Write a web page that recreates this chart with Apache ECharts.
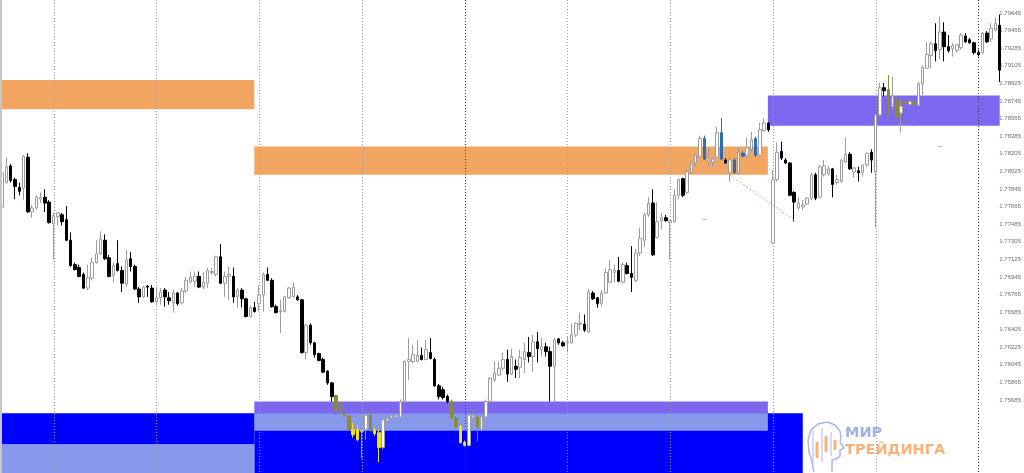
<!DOCTYPE html>
<html>
<head>
<meta charset="utf-8">
<script src="https://cdn.jsdelivr.net/npm/echarts@6/dist/echarts.min.js"></script>
<style>
  html, body { margin: 0; padding: 0; background: #fff; }
  #chart { width: 1024px; height: 473px; }
</style>
</head>
<body>
<div id="chart"></div>
<script>
// H1 bars: [open, close, low, high]
const candles = [
  [1.7766,1.7801,1.7761,1.7804],[1.7791,1.7807,1.7790,1.7817],[1.7808,1.7793,1.7791,1.7810],[1.7794,1.7787,1.7774,1.7796],
  [1.7786,1.7782,1.7778,1.7791],[1.7785,1.7818,1.7773,1.7819],[1.7817,1.7761,1.7760,1.7821],[1.7761,1.7765,1.7755,1.7768],
  [1.7765,1.7776,1.7763,1.7778],[1.7774,1.7776,1.7770,1.7781],[1.7776,1.7770,1.7761,1.7784],[1.7771,1.7750,1.7749,1.7773],
  [1.7749,1.7757,1.7712,1.7760],[1.7756,1.7760,1.7747,1.7761],[1.7758,1.7751,1.7747,1.7760],[1.7753,1.7732,1.7731,1.7767],
  [1.7732,1.7706,1.7705,1.7740],[1.7707,1.7702,1.7701,1.7709],[1.7704,1.7695,1.7694,1.7707],[1.7697,1.7683,1.7682,1.7699],
  [1.7683,1.7694,1.7681,1.7707],[1.7693,1.7709,1.7691,1.7714],[1.7709,1.7718,1.7708,1.7732],[1.7718,1.7733,1.7717,1.7741],
  [1.7732,1.7713,1.7712,1.7738],[1.7714,1.7695,1.7694,1.7717],[1.7696,1.7706,1.7689,1.7709],[1.7708,1.7701,1.7700,1.7732],
  [1.7701,1.7688,1.7679,1.7705],[1.7687,1.7712,1.7684,1.7722],[1.7713,1.7705,1.7700,1.7720],[1.7705,1.7682,1.7681,1.7707],
  [1.7682,1.7674,1.7668,1.7684],[1.7674,1.7684,1.7673,1.7685],[1.7685,1.7684,1.7674,1.7686],[1.7683,1.7669,1.7668,1.7686],
  [1.7669,1.7673,1.7666,1.7684],[1.7673,1.7679,1.7666,1.7683],[1.7681,1.7674,1.7664,1.7683],[1.7673,1.7670,1.7666,1.7679],
  [1.7668,1.7678,1.7658,1.7681],[1.7678,1.7667,1.7665,1.7679],[1.7668,1.7680,1.7666,1.7683],[1.7680,1.7691,1.7678,1.7694],
  [1.7689,1.7694,1.7688,1.7700],[1.7690,1.7695,1.7684,1.7700],[1.7695,1.7684,1.7683,1.7700],[1.7684,1.7689,1.7682,1.7699],
  [1.7688,1.7701,1.7683,1.7704],[1.7699,1.7700,1.7697,1.7704],[1.7697,1.7715,1.7695,1.7716],[1.7715,1.7688,1.7687,1.7728],
  [1.7688,1.7695,1.7674,1.7700],[1.7695,1.7697,1.7671,1.7705],[1.7695,1.7674,1.7668,1.7704],[1.7674,1.7681,1.7663,1.7683],
  [1.7681,1.7672,1.7663,1.7683],[1.7672,1.7654,1.7653,1.7673],[1.7654,1.7663,1.7653,1.7665],[1.7663,1.7659,1.7658,1.7669],
  [1.7667,1.7676,1.7659,1.7686],[1.7676,1.7697,1.7659,1.7699],[1.7697,1.7691,1.7690,1.7704],[1.7691,1.7664,1.7663,1.7693],
  [1.7664,1.7658,1.7657,1.7666],[1.7659,1.7660,1.7637,1.7671],[1.7659,1.7674,1.7658,1.7675],[1.7673,1.7683,1.7672,1.7684],
  [1.7674,1.7684,1.7673,1.7689],[1.7674,1.7671,1.7670,1.7676],[1.7671,1.7617,1.7616,1.7672],[1.7617,1.7645,1.7610,1.7646],
  [1.7645,1.7627,1.7625,1.7647],[1.7627,1.7615,1.7612,1.7628],[1.7616,1.7609,1.7608,1.7617],[1.7610,1.7597,1.7596,1.7612],
  [1.7598,1.7586,1.7584,1.7599],[1.7586,1.7572,1.7567,1.7587],[1.7573,1.7558,1.7553,1.7574],[1.7562,1.7555,1.7554,1.7566],
  [1.7555,1.7552,1.7551,1.7556],[1.7552,1.7538,1.7537,1.7553],[1.7538,1.7533,1.7530,1.7545],[1.7538,1.7528,1.7526,1.7543],
  [1.7536,1.7538,1.7509,1.7553],[1.7538,1.7553,1.7528,1.7555],[1.7553,1.7538,1.7536,1.7555],[1.7538,1.7534,1.7532,1.7540],
  [1.7535,1.7520,1.7505,1.7538],[1.7520,1.7548,1.7518,1.7550],[1.7547,1.7550,1.7545,1.7552],[1.7550,1.7553,1.7546,1.7555],
  [1.7551,1.7553,1.7549,1.7555],[1.7551,1.7567,1.7550,1.7569],[1.7567,1.7608,1.7566,1.7609],[1.7608,1.7610,1.7589,1.7632],
  [1.7608,1.7615,1.7606,1.7625],[1.7608,1.7614,1.7607,1.7630],[1.7614,1.7610,1.7609,1.7622],[1.7610,1.7620,1.7609,1.7630],
  [1.7617,1.7611,1.7610,1.7632],[1.7610,1.7583,1.7582,1.7612],[1.7583,1.7572,1.7569,1.7585],[1.7579,1.7571,1.7569,1.7582],
  [1.7572,1.7567,1.7565,1.7574],[1.7567,1.7550,1.7549,1.7569],[1.7550,1.7541,1.7540,1.7552],[1.7541,1.7525,1.7524,1.7543],
  [1.7525,1.7522,1.7521,1.7527],[1.7522,1.7553,1.7521,1.7554],[1.7551,1.7553,1.7550,1.7556],[1.7551,1.7541,1.7526,1.7553],
  [1.7538,1.7551,1.7537,1.7553],[1.7551,1.7567,1.7550,1.7569],[1.7567,1.7591,1.7566,1.7592],[1.7589,1.7596,1.7587,1.7608],
  [1.7594,1.7601,1.7593,1.7608],[1.7601,1.7610,1.7599,1.7617],[1.7610,1.7595,1.7587,1.7620],[1.7595,1.7613,1.7594,1.7621],
  [1.7603,1.7600,1.7591,1.7610],[1.7602,1.7612,1.7591,1.7620],[1.7610,1.7618,1.7596,1.7627],[1.7617,1.7613,1.7607,1.7633],
  [1.7613,1.7628,1.7597,1.7635],[1.7628,1.7621,1.7607,1.7638],[1.7620,1.7623,1.7613,1.7632],[1.7623,1.7618,1.7613,1.7627],
  [1.7618,1.7603,1.7567,1.7623],[1.7603,1.7630,1.7567,1.7632],[1.7631,1.7627,1.7625,1.7632],[1.7627,1.7624,1.7623,1.7629],
  [1.7627,1.7628,1.7617,1.7633],[1.7627,1.7635,1.7626,1.7647],[1.7635,1.7647,1.7633,1.7648],[1.7646,1.7647,1.7640,1.7658],
  [1.7646,1.7640,1.7638,1.7656],[1.7638,1.7679,1.7637,1.7682],[1.7678,1.7672,1.7671,1.7680],[1.7673,1.7667,1.7663,1.7674],
  [1.7667,1.7678,1.7664,1.7681],[1.7678,1.7699,1.7677,1.7703],[1.7689,1.7702,1.7688,1.7712],[1.7699,1.7701,1.7689,1.7707],
  [1.7701,1.7690,1.7689,1.7715],[1.7689,1.7707,1.7688,1.7709],[1.7706,1.7698,1.7697,1.7709],[1.7698,1.7694,1.7679,1.7726],
  [1.7691,1.7719,1.7689,1.7723],[1.7719,1.7734,1.7716,1.7745],[1.7732,1.7758,1.7725,1.7760],[1.7758,1.7770,1.7756,1.7776],
  [1.7770,1.7717,1.7716,1.7784],[1.7735,1.7751,1.7734,1.7771],[1.7752,1.7755,1.7743,1.7760],[1.7755,1.7752,1.7751,1.7758],
  [1.7750,1.7752,1.7712,1.7753],[1.7751,1.7778,1.7750,1.7784],[1.7778,1.7794,1.7774,1.7795],[1.7795,1.7778,1.7776,1.7796],
  [1.7781,1.7802,1.7779,1.7804],[1.7801,1.7811,1.7800,1.7812],[1.7811,1.7819,1.7807,1.7821],[1.7818,1.7836,1.7817,1.7839],
  [1.7836,1.7815,1.7814,1.7839],[1.7812,1.7816,1.7807,1.7827],[1.7812,1.7815,1.7807,1.7817],[1.7817,1.7842,1.7816,1.7848],
  [1.7842,1.7815,1.7814,1.7857],[1.7814,1.7811,1.7810,1.7816],[1.7801,1.7814,1.7792,1.7817],[1.7814,1.7801,1.7800,1.7816],
  [1.7801,1.7822,1.7799,1.7827],[1.7821,1.7818,1.7817,1.7823],[1.7819,1.7827,1.7816,1.7837],[1.7825,1.7835,1.7822,1.7843],
  [1.7836,1.7819,1.7817,1.7838],[1.7819,1.7845,1.7817,1.7852],[1.7844,1.7852,1.7843,1.7857],[1.7852,1.7845,1.7843,1.7853],
  [1.7729,1.7794,1.7728,1.7804],[1.7794,1.7822,1.7792,1.7832],[1.7823,1.7816,1.7814,1.7833],[1.7814,1.7811,1.7810,1.7816],
  [1.7811,1.7778,1.7777,1.7812],[1.7781,1.7771,1.7751,1.7782],[1.7765,1.7770,1.7763,1.7776],[1.7766,1.7768,1.7763,1.7773],
  [1.7769,1.7775,1.7768,1.7776],[1.7775,1.7799,1.7773,1.7801],[1.7799,1.7775,1.7773,1.7801],[1.7776,1.7807,1.7775,1.7809],
  [1.7799,1.7808,1.7797,1.7814],[1.7800,1.7805,1.7798,1.7808],[1.7805,1.7789,1.7776,1.7806],[1.7791,1.7794,1.7789,1.7799],
  [1.7792,1.7814,1.7791,1.7815],[1.7812,1.7820,1.7811,1.7837],[1.7820,1.7805,1.7804,1.7822],[1.7802,1.7806,1.7796,1.7807],
  [1.7803,1.7801,1.7792,1.7807],[1.7801,1.7809,1.7797,1.7809],[1.7809,1.7821,1.7807,1.7822],[1.7822,1.7814,1.7801,1.7825],
  [1.7802,1.7860,1.7745,1.7862],[1.7860,1.7888,1.7858,1.7893],[1.7888,1.7885,1.7879,1.7893],[1.7886,1.7869,1.7858,1.7901],
  [1.7869,1.7879,1.7865,1.7899],[1.7874,1.7858,1.7857,1.7878],[1.7862,1.7869,1.7842,1.7876],[1.7874,1.7872,1.7870,1.7876],
  [1.7871,1.7874,1.7869,1.7876],[1.7874,1.7871,1.7849,1.7879],[1.7870,1.7892,1.7869,1.7894],[1.7892,1.7909,1.7881,1.7911],
  [1.7908,1.7922,1.7907,1.7935],[1.7921,1.7933,1.7908,1.7935],[1.7933,1.7926,1.7915,1.7954],[1.7927,1.7945,1.7917,1.7961],
  [1.7945,1.7930,1.7915,1.7955],[1.7930,1.7926,1.7924,1.7942],[1.7928,1.7931,1.7920,1.7934],[1.7926,1.7932,1.7924,1.7933],
  [1.7929,1.7942,1.7927,1.7944],[1.7941,1.7935,1.7934,1.7944],[1.7937,1.7934,1.7933,1.7939],[1.7934,1.7924,1.7922,1.7935],
  [1.7924,1.7922,1.7920,1.7927],[1.7924,1.7944,1.7922,1.7945],[1.7944,1.7935,1.7934,1.7946],[1.7938,1.7949,1.7935,1.7954],
  [1.7947,1.7954,1.7946,1.7960],[1.7952,1.7906,1.7894,1.7963]
];

// bars repainted by the zone indicator
const oliveBars = [78, 79, 80, 81, 86, 105, 106, 111, 207, 209, 211, 213];
const yellowBars = [82, 83, 87, 88, 107, 108];
const blueBars = [164, 168, 171, 173, 176];

// day separators (bar index), week separators drawn darker
const daySeparators = [12, 36, 60, 84, 132, 156, 180, 204];
const weekSeparators = [108, 228];

// price scale labels
const priceTicks = [1.75685, 1.75865, 1.76045, 1.76225, 1.76405, 1.76585, 1.76765, 1.76945, 1.77125,
  1.77305, 1.77485, 1.77665, 1.77845, 1.78025, 1.78205, 1.78385, 1.78565, 1.78745, 1.78925,
  1.79105, 1.79285, 1.79465, 1.79645];

// zones: [fromBar, toBar, lowPrice, highPrice, kind]
const zones = [
  [-0.5, 58.9, 1.7866, 1.7896, 'supply'],
  [58.9, 178.85, 1.7799, 1.7828, 'supply'],
  [178.85, 233, 1.7849, 1.7880, 'flip'],
  [58.9, 187, 1.7490, 1.7555, 'demand'],
  [-0.5, 58.9, 1.7523, 1.7555, 'demand'],
  [-0.5, 58.9, 1.7490, 1.7523, 'overlap'],
  [58.9, 178.85, 1.7555, 1.7567, 'flip'],
  [58.9, 178.85, 1.7537, 1.7555, 'overlap']
];

const trendLine = [[164.6, 1.7815], [185.2, 1.7752]];
const dashMarks = [[164, 1.7753], [219, 1.7828]];

const zoneColors = { supply: '#f3a662', flip: '#7b68ee', demand: '#0000ff', overlap: '#8799ea' };

const barCount = candles.length;
const candleData = candles.map((c, i) => {
  let col = null;
  if (oliveBars.includes(i)) col = '#8e8a34';
  else if (yellowBars.includes(i)) col = '#f2e21a';
  else if (blueBars.includes(i)) col = '#2f6db2';
  if (!col) return c;
  return { value: c, itemStyle: { color: col, color0: col, borderColor: col, borderColor0: col } };
});

const sepData = daySeparators.map(i => [i, 0]).concat(weekSeparators.map(i => [i, 1]));

const chart = echarts.init(document.getElementById('chart'));

const gridLeft = -0.23, gridRight = 22.15;

const option = {
  animation: false,
  backgroundColor: '#ffffff',
  grid: [
    { left: gridLeft, right: gridRight, top: 0, bottom: 0 },
    { left: gridLeft, right: gridRight, top: 0, bottom: 61 }
  ],
  xAxis: [
    { type: 'category', gridIndex: 0, data: candles.map((c, i) => i), boundaryGap: true, show: false },
    { type: 'value', gridIndex: 0, min: -0.5, max: barCount - 0.5, show: false },
    { type: 'value', gridIndex: 1, min: 0, max: 1, show: false }
  ],
  yAxis: [
    { type: 'value', gridIndex: 0, min: 1.74938, max: 1.79778, show: false },
    {
      type: 'value', gridIndex: 1, position: 'right', min: 1.75562, max: 1.79778,
      axisLine: { show: true, lineStyle: { color: '#a8a8a8', width: 1 } },
      axisTick: { show: true, length: 2, customValues: priceTicks, lineStyle: { color: '#555' } },
      axisLabel: {
        customValues: priceTicks, margin: 3, fontSize: 6, color: '#707070',
        fontFamily: 'Liberation Sans',
        formatter: v => v.toFixed(5)
      },
      splitLine: { show: false }
    }
  ],
  series: [
    {
      type: 'custom', name: 'zones', xAxisIndex: 1, yAxisIndex: 0, z: 1, silent: true,
      data: zones.map(z => [z[0], z[1], z[2], z[3]]),
      renderItem: (params, api) => {
        const cs = params.coordSys;
        const a = api.coord([api.value(0), api.value(3)]);
        const b = api.coord([api.value(1), api.value(2)]);
        const x0 = Math.max(cs.x, a[0]), x1 = Math.min(cs.x + cs.width, b[0]);
        const y0 = Math.max(cs.y, a[1]), y1 = Math.min(cs.y + cs.height, b[1]);
        return {
          type: 'rect',
          shape: { x: x0, y: y0, width: x1 - x0, height: y1 - y0 },
          style: { fill: zoneColors[zones[params.dataIndex][4]] }
        };
      }
    },
    {
      type: 'custom', name: 'separators', xAxisIndex: 1, yAxisIndex: 0, z: 2, silent: true,
      data: sepData,
      renderItem: (params, api) => {
        const cs = params.coordSys;
        const x = Math.round(api.coord([api.value(0), 1.77])[0]) + 0.5;
        const week = api.value(1) === 1;
        return {
          type: 'line',
          shape: { x1: x, y1: cs.y, x2: x, y2: cs.y + cs.height },
          style: { stroke: week ? '#3a3a3a' : '#a0a0a0', lineWidth: 1, lineDash: [1, 2] }
        };
      }
    },
    {
      type: 'candlestick', name: 'GBPCHF H1', xAxisIndex: 0, yAxisIndex: 0, z: 3,
      barWidth: 3,
      data: candleData,
      itemStyle: {
        color: '#ffffff', color0: '#000000',
        borderColor: '#9c9c9c', borderColor0: '#000000', borderWidth: 1
      }
    },
    {
      type: 'line', name: 'trend', xAxisIndex: 1, yAxisIndex: 0, z: 4, silent: true,
      data: trendLine, symbol: 'none',
      lineStyle: { color: '#e8a68c', width: 1, type: [2, 2] }
    },
    {
      type: 'scatter', name: 'marks', xAxisIndex: 1, yAxisIndex: 0, z: 4, silent: true,
      data: dashMarks, symbol: 'rect', symbolSize: [5, 1],
      itemStyle: { color: '#a3abe6' }
    }
  ],
  graphic: [
    { type: 'rect', z: 100, silent: true, shape: { x: 0, y: 0, width: 2, height: 473 }, style: { fill: '#c6c6c6' } },
    {
      type: 'group', z: 100, silent: true,
      children: [
        { type: 'polyline', shape: { points: [[814,472],[812,462],[809,452],[808,440],[811,430],[818,424],[827,422],[835,425],[840,431],[841,438],[840,442],[844,448],[840,450],[840,456],[836,459],[832,460],[832,472]] },
          style: { stroke: '#a9b8e6', lineWidth: 1.5, fill: null } },
        { type: 'line', shape: { x1: 813, y1: 431, x2: 813, y2: 465 }, style: { stroke: '#a9b8e6', lineWidth: 1 } },
        { type: 'line', shape: { x1: 822, y1: 428, x2: 822, y2: 462 }, style: { stroke: '#a9b8e6', lineWidth: 1 } },
        { type: 'line', shape: { x1: 831, y1: 432, x2: 831, y2: 456 }, style: { stroke: '#a9b8e6', lineWidth: 1 } },
        { type: 'rect', shape: { x: 815.5, y: 442, width: 3, height: 16 }, style: { fill: '#f7b27c' } },
        { type: 'rect', shape: { x: 824.5, y: 436, width: 3, height: 16 }, style: { fill: '#f7b27c' } },
        { type: 'rect', shape: { x: 833.5, y: 440, width: 3, height: 10 }, style: { fill: '#f7b27c' } },
        { type: 'text', style: { x: 845, y: 433.5, text: 'МИР', fill: '#9fb1e6', font: 'bold 14.5px "DejaVu Sans"', textVerticalAlign: 'middle' } },
        { type: 'text', style: { x: 845, y: 450, text: 'ТРЕЙДИНГА', fill: '#f7b27c', font: 'bold 14.5px "DejaVu Sans"', textVerticalAlign: 'middle' } }
      ]
    }
  ]
};

chart.setOption(option);
</script>
</body>
</html>
